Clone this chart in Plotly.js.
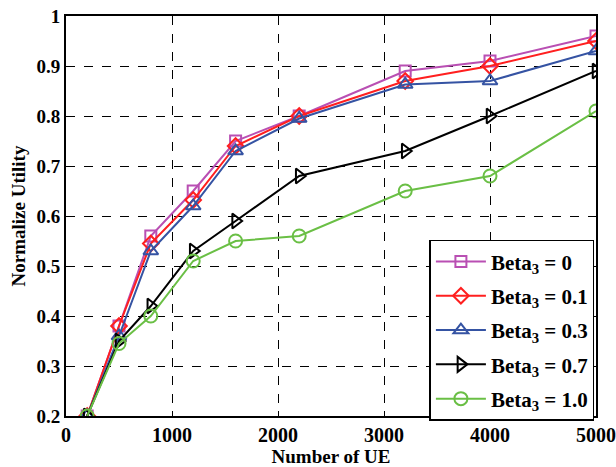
<!DOCTYPE html>
<html>
<head>
<meta charset="utf-8">
<script src="https://cdn.plot.ly/plotly-3.0.1.min.js"></script>
<style>html,body{margin:0;padding:0;background:#fff;}</style>
</head>
<body>
<div id="chart" style="width:616px;height:467px;"></div>
<script>
const numberOfUE = [200, 500, 800, 1200, 1600, 2200, 3200, 4000, 5000];
const beta0  = [0.20, 0.38, 0.56, 0.65, 0.75, 0.80, 0.89, 0.91, 0.96];
const beta01 = [0.20, 0.38, 0.545, 0.632, 0.74, 0.80, 0.87, 0.90, 0.95];
const beta03 = [0.20, 0.36, 0.53, 0.62, 0.73, 0.795, 0.863, 0.87, 0.93];
const beta07 = [0.20, 0.35, 0.42, 0.53, 0.59, 0.68, 0.73, 0.80, 0.89];
const beta10 = [0.20, 0.345, 0.40, 0.51, 0.55, 0.56, 0.65, 0.68, 0.81];
const seriesNames = ["Beta<sub>3</sub> = 0", "Beta<sub>3</sub> = 0.1", "Beta<sub>3</sub> = 0.3", "Beta<sub>3</sub> = 0.7", "Beta<sub>3</sub> = 1.0"];
const xTickVals = [0, 1000, 2000, 3000, 4000, 5000];
const yTickVals = [0.2, 0.3, 0.4, 0.5, 0.6, 0.7, 0.8, 0.9, 1.0];
const yTickText = ["0.2", "0.3", "0.4", "0.5", "0.6", "0.7", "0.8", "0.9", "1"];

const seriesData = [beta0, beta01, beta03, beta07, beta10];
const colors = ["#b94fb3", "#ff1f1f", "#3553a3", "#000000", "#6abf45"];
const symbols = ["square-open", "diamond-open", "triangle-up-open", "triangle-right-open", "circle-open"];
const sizes = [11, 12, 13, 13, 13];

const traces = seriesData.map((ys, i) => ({
  x: numberOfUE,
  y: ys,
  name: seriesNames[i],
  legendgroup: "g" + i,
  type: "scatter",
  mode: "lines+markers",
  line: {color: colors[i], width: 2},
  marker: {symbol: symbols[i], size: sizes[i], color: colors[i], line: {color: colors[i], width: 2}}
}));

const font = {family: "Liberation Serif, Times New Roman, serif", color: "#000"};

const layout = {
  width: 616, height: 467,
  margin: {l: 66, r: 20, t: 16, b: 51},
  paper_bgcolor: "#fff", plot_bgcolor: "#fff",
  showlegend: true,
  legend: {
    x: 0.997, y: -0.012, xanchor: "right", yanchor: "bottom",
    bgcolor: "#fff", bordercolor: "#000", borderwidth: 1.5,
    font: Object.assign({}, font, {size: 21, weight: "bold"}),
    tracegroupgap: 4,
    itemwidth: 50
  },
  xaxis: {
    range: [0, 5000],
    tickvals: xTickVals,
    ticktext: xTickVals.map(String),
    showgrid: true, gridcolor: "#000", griddash: "dash", gridwidth: 1,
    showline: true, linecolor: "#000", linewidth: 2, mirror: "ticks",
    ticks: "inside", ticklen: 5, tickcolor: "#000",
    zeroline: false, automargin: false,
    tickfont: Object.assign({}, font, {size: 20, weight: "bold"}),
    title: {text: "Number of UE", font: Object.assign({}, font, {size: 19, weight: "bold"}), standoff: 2}
  },
  yaxis: {
    range: [0.2, 1.0],
    tickvals: yTickVals,
    ticktext: yTickText,
    showgrid: true, gridcolor: "#000", griddash: "dash", gridwidth: 1,
    showline: true, linecolor: "#000", linewidth: 2, mirror: "ticks",
    ticks: "inside", ticklen: 5, tickcolor: "#000",
    zeroline: false, automargin: false,
    tickfont: Object.assign({}, font, {size: 19, weight: "bold"}),
    title: {text: "Normalize Utility", font: Object.assign({}, font, {size: 19, weight: "bold"}), standoff: 6}
  }
};

Plotly.newPlot("chart", traces, layout, {displayModeBar: false, staticPlot: true});
</script>
</body>
</html>
